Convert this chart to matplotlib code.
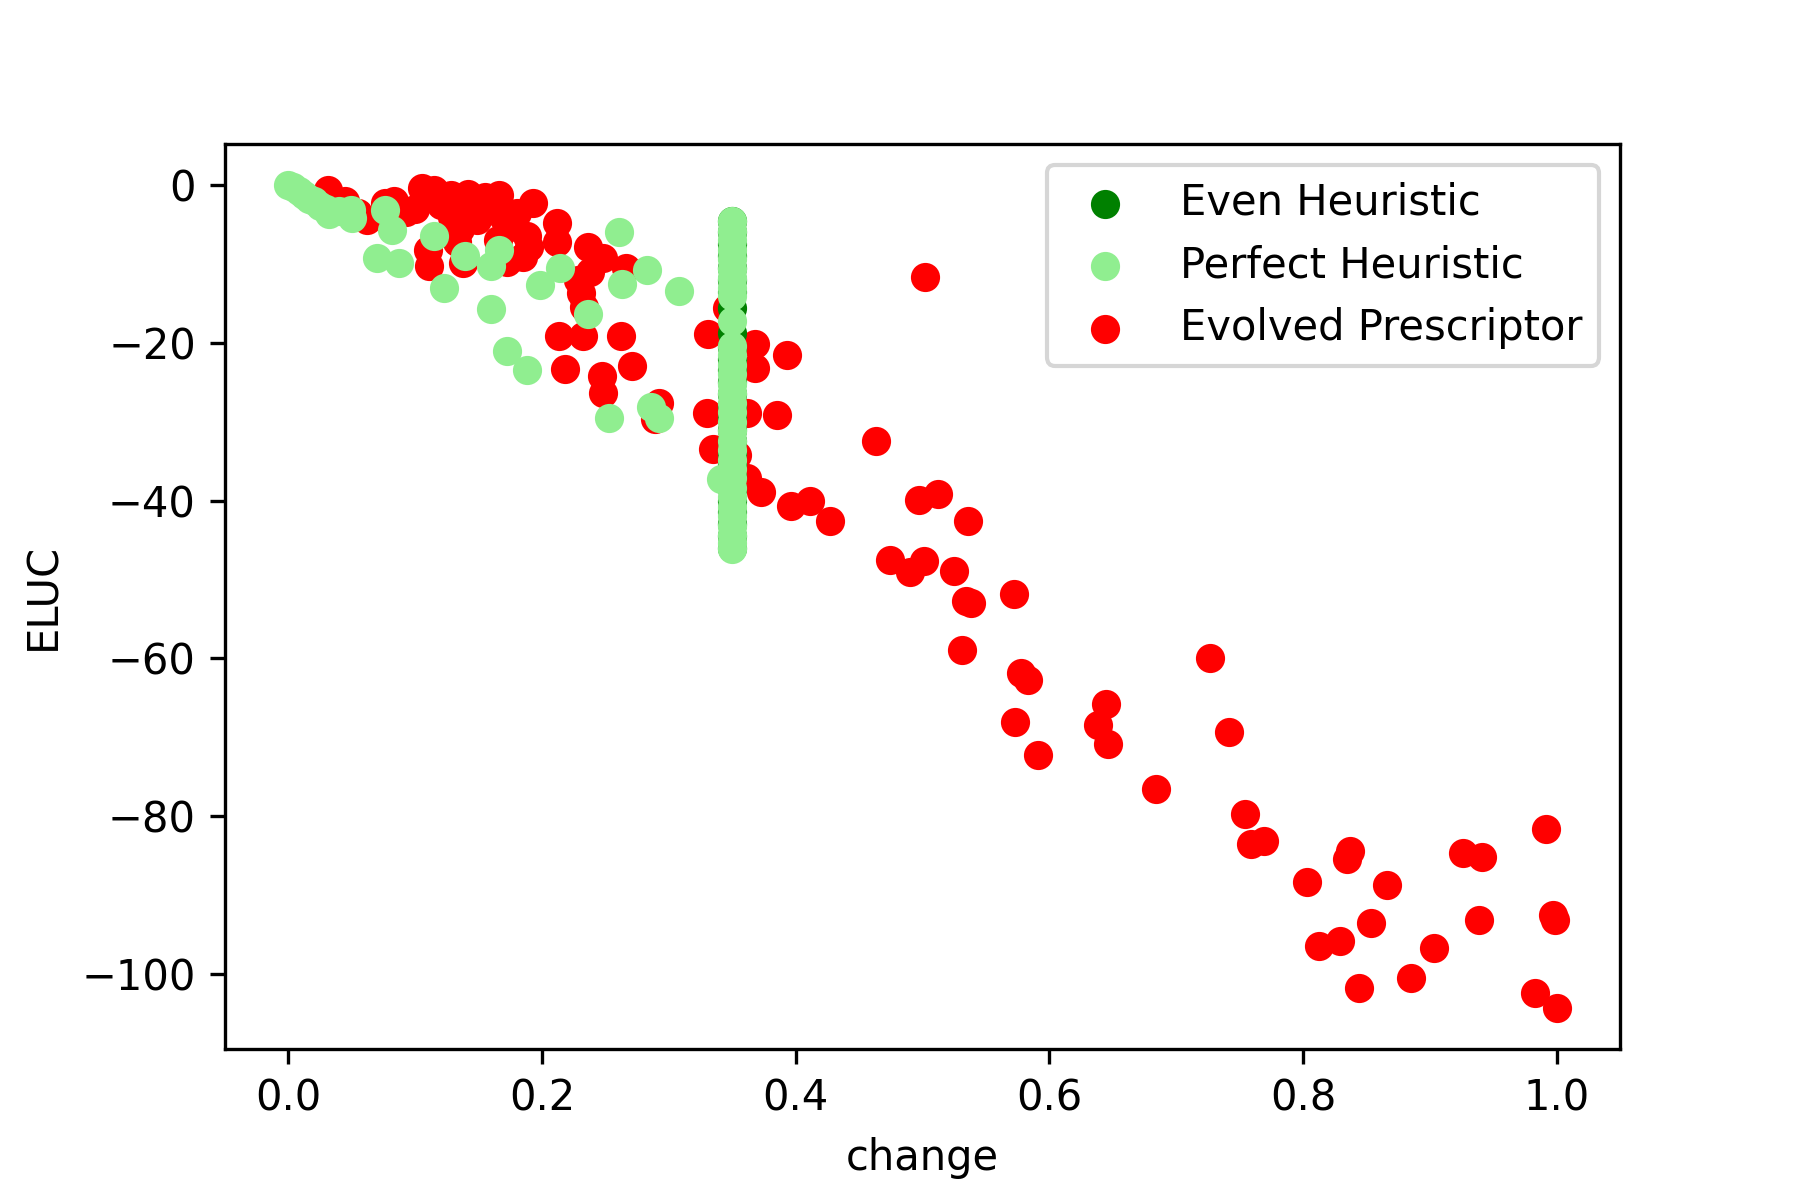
import matplotlib
matplotlib.use("Agg")
from matplotlib import pyplot as plt

# Evolved Prescriptor points (change, ELUC)
evolved_change = [0.031, 0.045, 0.055, 0.062, 0.076, 0.083, 0.093, 0.100, 0.105, 0.115, 0.120,
                  0.128, 0.129, 0.133, 0.135, 0.142, 0.142, 0.149, 0.155, 0.160, 0.165, 0.166,
                  0.169, 0.175, 0.180, 0.185, 0.188, 0.190, 0.193, 0.212, 0.212, 0.110, 0.111,
                  0.138, 0.172, 0.236, 0.248, 0.266, 0.228, 0.231, 0.238,
                  0.213, 0.232, 0.262, 0.218, 0.247, 0.271, 0.248, 0.292, 0.289, 0.233,
                  0.346, 0.331, 0.368, 0.368, 0.393, 0.330, 0.362, 0.385, 0.335, 0.354,
                  0.362, 0.373, 0.396, 0.411, 0.427,
                  0.502, 0.463, 0.497, 0.512, 0.536, 0.474, 0.490, 0.501, 0.525, 0.534,
                  0.538, 0.572, 0.531, 0.578, 0.583, 0.573, 0.591, 0.645, 0.638, 0.646,
                  0.684, 0.727, 0.742, 0.754, 0.759, 0.769, 0.803, 0.837, 0.835, 0.866,
                  0.813, 0.829, 0.854, 0.844, 0.885, 0.903, 0.926, 0.941, 0.939, 0.992,
                  0.997, 0.999, 0.983, 1.000]
evolved_eluc = [-0.6, -2.0, -3.5, -4.4, -2.3, -2.0, -3.4, -3.0, -0.4, -0.6, -2.5,
                -1.3, -4.0, -7.2, -5.5, -1.1, -3.0, -4.4, -1.5, -3.0, -7.0, -1.3,
                -4.0, -5.3, -3.5, -9.1, -6.5, -7.8, -2.3, -4.8, -7.2, -8.2, -10.3,
                -9.9, -9.7, -7.8, -9.3, -10.5, -12.0, -13.7, -11.0,
                -19.1, -19.1, -19.1, -23.3, -24.2, -22.9, -26.4, -27.6, -29.7, -15.4,
                -15.6, -18.9, -20.1, -23.2, -21.6, -28.9, -28.9, -29.1, -33.5, -34.2,
                -37.1, -38.9, -40.7, -40.1, -42.6,
                -11.7, -32.5, -39.9, -39.2, -42.6, -47.5, -49.0, -47.7, -48.9, -52.7,
                -53.0, -51.9, -58.9, -61.8, -62.7, -68.1, -72.2, -65.8, -68.4, -70.9,
                -76.6, -60.0, -69.4, -79.8, -83.6, -83.2, -88.4, -84.4, -85.4, -88.7,
                -96.5, -95.9, -93.6, -101.8, -100.5, -96.7, -84.7, -85.2, -93.2, -81.7,
                -92.6, -93.2, -102.4, -104.3]

# Perfect Heuristic points
perfect_change = [0.000, 0.004, 0.008, 0.012, 0.016, 0.020, 0.025, 0.030, 0.032, 0.040, 0.049,
                  0.050, 0.076, 0.082, 0.070, 0.087, 0.115, 0.123, 0.139, 0.160, 0.166,
                  0.160, 0.198, 0.214, 0.172, 0.188, 0.261, 0.283, 0.263, 0.308, 0.236,
                  0.253, 0.286, 0.292, 0.341,
                  0.35, 0.35, 0.35, 0.35, 0.35, 0.35, 0.35, 0.35, 0.35, 0.35, 0.35,
                  0.35, 0.35, 0.35, 0.35, 0.35, 0.35, 0.35, 0.35, 0.35, 0.35, 0.35,
                  0.35, 0.35, 0.35, 0.35, 0.35, 0.35, 0.35, 0.35, 0.35, 0.35, 0.35]
perfect_eluc = [0.0, -0.3, -0.8, -1.3, -1.7, -2.0, -2.6, -3.0, -3.6, -3.3, -3.2,
                -4.2, -3.2, -5.7, -9.3, -9.9, -6.5, -13.1, -9.0, -10.3, -8.2,
                -15.7, -12.7, -10.5, -21.0, -23.4, -5.9, -10.7, -12.5, -13.4, -16.3,
                -29.5, -28.1, -29.5, -37.3,
                -4.6, -5.8, -7.0, -8.2, -9.4, -10.6, -11.8, -13.0, -14.0, -17.2, -20.4,
                -21.6, -22.8, -24.0, -25.2, -26.4, -27.6, -28.8, -30.0, -31.2, -32.4, -33.6,
                -34.8, -36.0, -37.2, -38.4, -39.6, -40.8, -42.0, -43.2, -44.4, -45.4, -46.2]

# Even Heuristic points (all at the same change)
even_eluc = [-4.6, -6.0, -7.5, -9.0, -10.5, -12.0, -13.5, -15.6, -18.8, -20.5, -22.0,
             -23.5, -25.0, -26.5, -28.0, -29.5, -31.0, -32.5, -34.0, -35.5, -37.0,
             -38.5, -40.0, -41.5, -43.0, -44.5, -46.0]
even_change = [0.35] * len(even_eluc)

fig, ax = plt.subplots(figsize=(6, 4), dpi=300)
fig.subplots_adjust(bottom=0.126)
ax.scatter(even_change, even_eluc, color="green", label="Even Heuristic", zorder=2)
ax.scatter(perfect_change, perfect_eluc, color="lightgreen", label="Perfect Heuristic", zorder=3)
ax.scatter(evolved_change, evolved_eluc, color="red", label="Evolved Prescriptor", zorder=1)
ax.set_xlabel("change")
ax.set_ylabel("ELUC")
ax.legend(loc="upper right")
fig.savefig("out.png")
